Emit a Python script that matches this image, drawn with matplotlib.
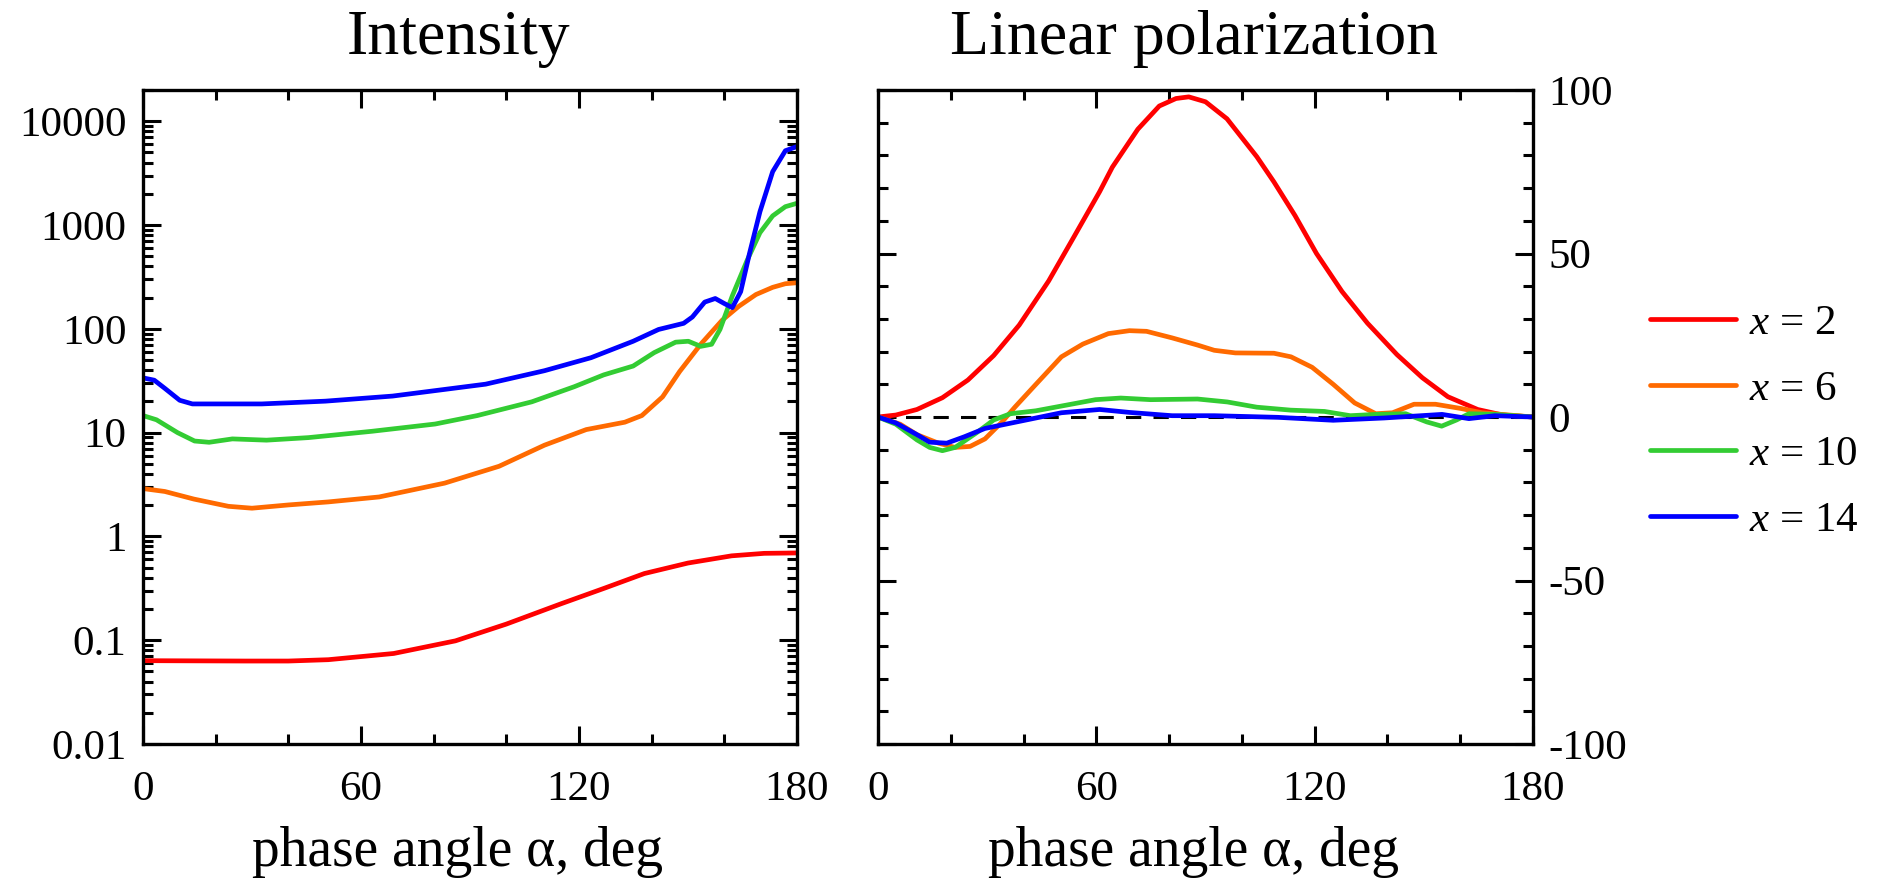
import matplotlib
matplotlib.use("Agg")
import matplotlib.pyplot as plt
from matplotlib.ticker import MultipleLocator, LogLocator, NullFormatter, FixedLocator

plt.rcParams['font.family'] = ['Liberation Serif', 'DejaVu Serif']
plt.rcParams['mathtext.fontset'] = 'custom'
plt.rcParams['mathtext.rm'] = 'Liberation Serif'
plt.rcParams['mathtext.it'] = 'Liberation Serif:italic'

labels = ["$x$ = 2", "$x$ = 6", "$x$ = 10", "$x$ = 14"]
colors = ["#ff0000", "#ff6a00", "#33cc33", "#0000ff"]

# Intensity (log scale)
int_x2_a = [0, 28, 40, 51, 69, 86, 100, 115, 127, 138, 150, 162, 171, 180]
int_x2_v = [0.0635, 0.063, 0.063, 0.0649, 0.0745, 0.0986, 0.143, 0.224, 0.317, 0.439, 0.554, 0.65, 0.687, 0.693]

int_x6_a = [0, 6, 14, 23.5, 30, 40, 51, 65, 83, 98, 110.5, 122, 132.6, 137.3, 143, 147.7, 153.5, 159.4, 164, 168.7, 173.3, 176.8, 180]
int_x6_v = [2.89, 2.71, 2.29, 1.95, 1.87, 2.01, 2.15, 2.4, 3.26, 4.74, 7.57, 10.7, 12.6, 14.6, 22.1, 38.8, 71, 121, 165, 214, 251, 272, 278]

int_x10_a = [0, 3.7, 9.5, 14.2, 18.2, 24.6, 34, 45.5, 63, 80.4, 92, 107, 118.7, 126.8, 134.9, 140.7, 146.6, 150.1, 153.5, 156.5, 158.8, 162.2, 166.3, 169.8, 173.3, 176.8, 180]
int_x10_v = [14.6, 13.3, 10, 8.3, 8.07, 8.7, 8.46, 8.95, 10.3, 12.1, 14.6, 19.8, 27.7, 36, 43.8, 59, 74.4, 75.9, 67.8, 71, 98.6, 208, 459, 843, 1225, 1503, 1620]

int_x14_a = [0, 3.1, 6, 10.1, 13.6, 32.7, 50.2, 68.7, 94.3, 110.5, 123.3, 134.9, 141.9, 148.8, 151.2, 154.6, 157.5, 159.9, 162.2, 164.5, 166.9, 169.8, 173.3, 176.8, 180]
int_x14_v = [33.7, 32, 26.7, 20.5, 18.9, 18.9, 20.1, 22.5, 29.3, 39.5, 52.7, 75.9, 98.6, 113, 130, 181, 196, 176, 160, 228, 528, 1343, 3265, 5200, 5710]

# Linear polarization (%)
pol_x2_a = [0, 4.9, 10.7, 17.7, 24.7, 31.8, 38.8, 46.9, 53.9, 60.9, 64.4, 71.4, 77.3, 81.9, 85.4, 90, 95.9, 104.1, 108.8, 114.6, 120.5, 127.5, 134.5, 142.6, 149.6, 156.6, 164.8, 171.7, 180]
pol_x2_v = [0, 0.6, 2.3, 5.9, 11.3, 18.8, 28.1, 41.6, 55.2, 68.9, 76.4, 88, 95.1, 97.4, 97.9, 96.4, 91.2, 79.6, 71.9, 61.6, 50, 38.4, 28.7, 19.1, 12, 6.2, 2.3, 0.6, 0]

pol_x6_a = [0, 6.1, 10.7, 16.6, 21.2, 25.3, 29.4, 34.1, 37.6, 43.4, 50.4, 56.3, 63.3, 69.1, 73.8, 80.8, 87.8, 92.4, 98.2, 108.8, 113.5, 119.3, 125.1, 131, 136.8, 141.4, 147.3, 153.2, 160.2, 166, 180]
pol_x6_v = [0, -2.2, -5.4, -8, -9.3, -9, -6.7, -1.5, 3, 10, 18.4, 22.3, 25.5, 26.4, 26.2, 24.2, 22, 20.4, 19.6, 19.5, 18.4, 15.2, 10, 4.3, 1, 1.3, 3.9, 3.9, 2.6, 1.3, 0]

pol_x10_a = [0, 4.9, 10.7, 14.2, 17.7, 21.2, 27.1, 31.8, 36.4, 43.4, 51.6, 59.8, 66.7, 74.9, 87.8, 96, 104.1, 113.4, 122.7, 129.8, 136.8, 145, 150.8, 154.9, 159, 162.4, 169.5, 180]
pol_x10_v = [0, -2.2, -7, -9.3, -10.3, -9.3, -4.8, -0.9, 1, 1.9, 3.6, 5.3, 5.8, 5.3, 5.5, 4.6, 3, 2.1, 1.7, 0.4, 0.8, 1, -1.5, -2.8, -0.9, 1, 0.8, 0]

pol_x14_a = [0, 4.9, 10.7, 14.2, 18.9, 23.6, 29.4, 36.4, 43.4, 50.4, 60.9, 69.1, 80.8, 92.4, 109.9, 125.1, 139.1, 155, 162.4, 169.5, 180]
pol_x14_v = [0, -1.8, -5.4, -7.7, -8, -6.1, -3.5, -1.9, -0.3, 1.3, 2.3, 1.4, 0.4, 0.4, -0.1, -1, -0.3, 0.8, -0.5, 0.4, 0]

int_series = [(int_x2_a, int_x2_v), (int_x6_a, int_x6_v), (int_x10_a, int_x10_v), (int_x14_a, int_x14_v)]
pol_series = [(pol_x2_a, pol_x2_v), (pol_x6_a, pol_x6_v), (pol_x10_a, pol_x10_v), (pol_x14_a, pol_x14_v)]

W, H = 1892, 893
fig = plt.figure(figsize=(W / 100, H / 100), dpi=100)
ax1 = fig.add_axes([143 / W, 1 - 744 / H, 654 / W, 654 / H])
ax2 = fig.add_axes([878 / W, 1 - 744 / H, 655 / W, 654 / H])

FS = 31
LW = 3.4

lines = []
for (a, v), c, lab in zip(int_series, colors, labels):
    l, = ax1.plot(a, v, color=c, lw=LW, label=lab, solid_joinstyle='round', solid_capstyle='round')
    lines.append(l)
for (a, v), c in zip(pol_series, colors):
    ax2.plot(a, v, color=c, lw=LW, solid_joinstyle='round', solid_capstyle='round')
ax2.axhline(0, color='black', lw=2.2, dashes=(5, 4), zorder=1)

ax1.set_yscale('log')
ax1.set_ylim(0.01, 20000)
ax1.yaxis.set_major_locator(FixedLocator([0.01, 0.1, 1, 10, 100, 1000, 10000]))
ax1.set_yticklabels(['0.01', '0.1', '1', '10', '100', '1000', '10000'])
ax1.yaxis.set_minor_locator(LogLocator(base=10, subs=range(2, 10), numticks=20))
ax1.yaxis.set_minor_formatter(NullFormatter())

ax2.set_ylim(-100, 100)
ax2.yaxis.set_major_locator(MultipleLocator(50))
ax2.yaxis.set_minor_locator(MultipleLocator(10))
ax2.yaxis.tick_right()

for ax in (ax1, ax2):
    ax.set_xlim(0, 180)
    ax.xaxis.set_major_locator(MultipleLocator(60))
    ax.xaxis.set_minor_locator(MultipleLocator(20))
    ax.tick_params(which='both', direction='in', top=True, bottom=True, left=True, right=True,
                   width=2.2, labelsize=FS)
    ax.tick_params(which='major', length=13)
    ax.tick_params(which='minor', length=7)
    ax.tick_params(axis='x', pad=19)
    for s in ax.spines.values():
        s.set_linewidth(2.4)
    ax.set_xlabel('phase angle α, deg', fontsize=40, labelpad=12)
    ax.xaxis.label.set_x(0.481)

ax1.tick_params(axis='y', pad=12, labelleft=True, labelright=False)
ax2.set_yticks([-100, -50, 0, 50, 100])
ax2.set_yticklabels(['-100', '-50', '0', '50', '100'])
ax2.tick_params(axis='y', pad=11, labelleft=False, labelright=True)

ax1.set_title('Intensity', fontsize=46, pad=26, x=0.483)
ax2.set_title('Linear polarization', fontsize=46, pad=26, x=0.483)

fig.legend(handles=lines, labels=labels, loc='center left', bbox_to_anchor=(1650 / W, 1 - 422 / H),
           frameon=False, fontsize=FS, handlelength=2.0, handletextpad=0.3, labelspacing=0.62,
           borderpad=0, borderaxespad=0)

fig.savefig('out.png', dpi=100)
